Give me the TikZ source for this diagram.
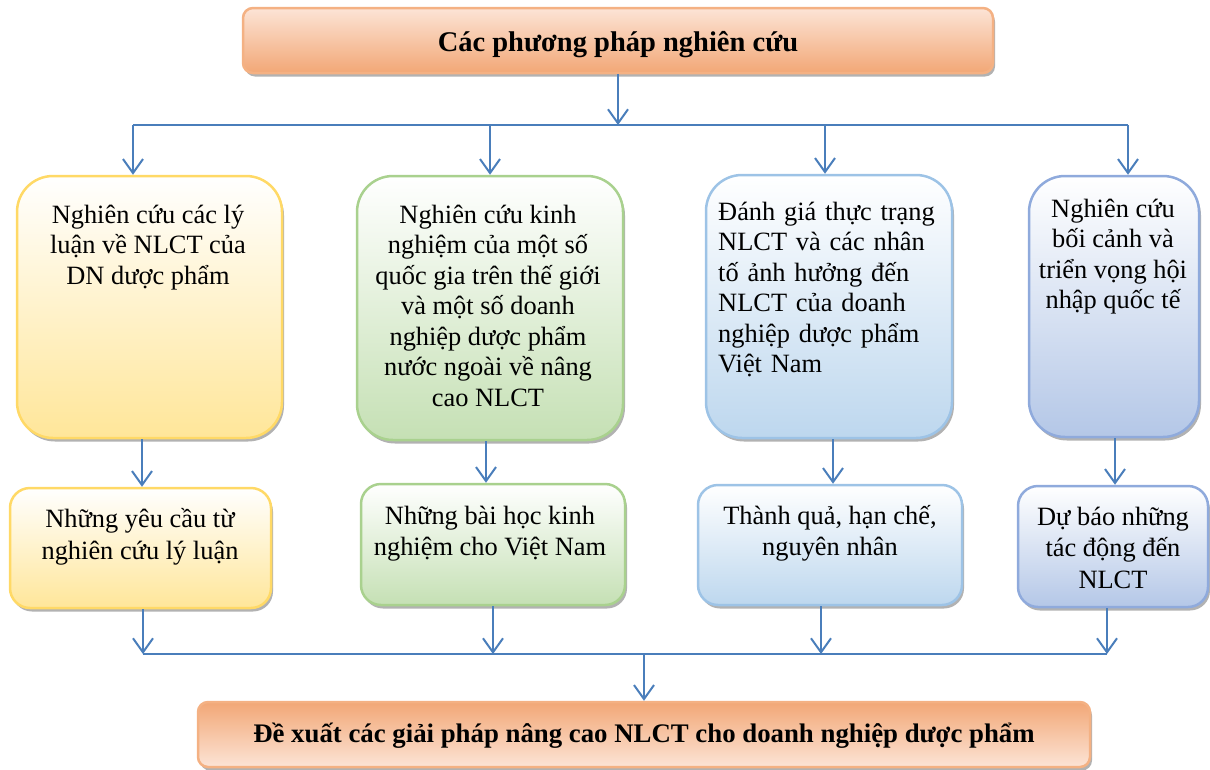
\documentclass[tikz,border=0pt]{standalone}
\usepackage{fontspec}
\setmainfont{Liberation Serif}
\usetikzlibrary{arrows.meta,shadows}
\definecolor{ablue}{HTML}{4A7EBB}
\definecolor{orB}{HTML}{F4B183}
\definecolor{orL}{HTML}{FCE4D6}
\definecolor{orD}{HTML}{F2A776}
\definecolor{yeB}{HTML}{FFD966}
\definecolor{yeF}{HTML}{FFE699}
\definecolor{grB}{HTML}{A9D18E}
\definecolor{grF}{HTML}{C5E0B4}
\definecolor{blB}{HTML}{9DC3E6}
\definecolor{blF}{HTML}{BDD7EE}
\definecolor{peB}{HTML}{8FAADC}
\definecolor{peF}{HTML}{B4C7E7}
\begin{document}
\begin{tikzpicture}[x=1pt,y=-1pt,
  arr/.style={draw=ablue,line width=2pt,-{Straight Barb[length=14pt,width=20pt,line width=2pt]}},
  ln/.style={draw=ablue,line width=2pt},
  card/.style={line width=2.5pt, inner sep=0pt,
    drop shadow={shadow xshift=2pt,shadow yshift=-3.5pt,fill=black,opacity=0.3}},
  bigcard/.style={card, rounded corners=36pt},
  smallcard/.style={card, rounded corners=20pt},
  headcard/.style={card, rounded corners=10pt, draw=orB, top color=orL, bottom color=orD},
  txtU/.style={font=\fontsize{26.4}{30.5}\selectfont, align=center, inner sep=0pt, anchor=north},
  txtL/.style={font=\fontsize{26.4}{31.5}\selectfont, align=center, inner sep=0pt, anchor=north},
]
\useasboundingbox (0,0) rectangle (1210,769);

% head and foot boxes
\node[headcard, minimum width=750pt, minimum height=65pt, font=\fontsize{28.5}{32}\selectfont\bfseries] (top) at (618,40.5) {\raisebox{-4pt}[\height][\depth]{Các phương pháp nghiên cứu}};
\node[headcard, minimum width=892pt, minimum height=65pt, top color=orD, bottom color=orL, font=\fontsize{26.8}{30}\selectfont\bfseries] (bot) at (644,734.5)
  {\raisebox{-1pt}[\height][\depth]{Đề xuất các giải pháp nâng cao NLCT cho doanh nghiệp dược phẩm}};

% upper cards
\node[bigcard, draw=yeB, top color=white, bottom color=yeF, minimum width=265pt, minimum height=262pt] (b1) at (149.5,307) {};
\node[bigcard, draw=grB, top color=white, bottom color=grF, minimum width=266pt, minimum height=264pt] (b2) at (490,308) {};
\node[bigcard, draw=blB, top color=white, bottom color=blF, minimum width=246pt, minimum height=263pt] (b3) at (829,306.5) {};
\node[bigcard, draw=peB, top color=white, bottom color=peF, minimum width=170pt, minimum height=261pt] (b4) at (1114,306.5) {};

% lower cards
\node[smallcard, draw=yeB, top color=white, bottom color=yeF, minimum width=261pt, minimum height=120pt] (b5) at (140.5,548) {};
\node[smallcard, draw=grB, top color=white, bottom color=grF, minimum width=264pt, minimum height=121pt] (b6) at (493,544.5) {};
\node[smallcard, draw=blB, top color=white, bottom color=blF, minimum width=264pt, minimum height=120pt] (b7) at (830,545) {};
\node[smallcard, draw=peB, top color=white, bottom color=peF, minimum width=190pt, minimum height=121pt] (b8) at (1113,546.5) {};

% texts upper (first baseline = y + 30)
\node[txtU] (t1) at (148,193) {\rule{0pt}{30pt}Nghiên cứu các lý\\luận về NLCT của\\DN dược phẩm};
\node[txtU] (t2) at (488,193) {\rule{0pt}{30pt}Nghiên cứu kinh\\nghiệm của một số\\quốc gia trên thế giới\\và một số doanh\\nghiệp dược phẩm\\nước ngoài về nâng\\cao NLCT};
\node[txtU, anchor=north west, align=left, text width=221pt] (t3) at (718,190) {\rule{0pt}{30pt}\makebox[221pt][s]{Đánh giá thực trạng}\\
  \makebox[221pt][s]{NLCT và các nhân}\\
  \makebox[221pt][s]{tố ảnh hưởng đến}\\
  \makebox[221pt][s]{NLCT của doanh}\\
  \makebox[221pt][s]{nghiệp dược phẩm}\\
  Việt Nam};
\node[txtU] (t4) at (1113,187) {\rule{0pt}{30pt}Nghiên cứu\\bối cảnh và\\triển vọng hội\\nhập quốc tế};

% texts lower
\node[txtL] (t5) at (140,497.5) {\rule{0pt}{30pt}Những yêu cầu từ\\nghiên cứu lý luận};
\node[txtL] (t6) at (490,494) {\rule{0pt}{30pt}Những bài học kinh\\nghiệm cho Việt Nam};
\node[txtL] (t7) at (830,494) {\rule{0pt}{30pt}Thành quả, hạn chế,\\nguyên nhân};
\node[txtL] (t8) at (1113,495) {\rule{0pt}{30pt}Dự báo những\\tác động đến\\NLCT};

% junction coordinates
\coordinate (d1) at (133,125);
\coordinate (d2) at (490,125);
\coordinate (d3) at (825,125);
\coordinate (d4) at (1128,125);
\coordinate (m1) at (142,0);
\coordinate (m2) at (486,0);
\coordinate (m3) at (833,0);
\coordinate (m4) at (1115,0);
\coordinate (e1) at (143,654);
\coordinate (e2) at (493,654);
\coordinate (e3) at (821,654);
\coordinate (e4) at (1107,654);
\coordinate (e0) at (644,654);

% top connectors
\draw[arr] (top.south) -- (top.south |- d1);
\draw[ln] (d1) -- (d4);
\draw[arr] (d1) -- (d1 |- b1.north);
\draw[arr] (d2) -- (d2 |- b2.north);
\draw[arr] (d3) -- (d3 |- b3.north);
\draw[arr] (d4) -- (d4 |- b4.north);

% middle connectors
\draw[arr] (b1.south -| m1) -- (b5.north -| m1);
\draw[arr] (b2.south -| m2) -- (b6.north -| m2);
\draw[arr] (b3.south -| m3) -- (b7.north -| m3);
\draw[arr] (b4.south -| m4) -- (b8.north -| m4);

% bottom connectors
\draw[arr] (b5.south -| e1) -- (e1);
\draw[arr] (b6.south -| e2) -- (e2);
\draw[arr] (b7.south -| e3) -- (e3);
\draw[arr] (b8.south -| e4) -- (e4);
\draw[ln] (e1) -- (e4);
\draw[arr] (e0) -- (e0 |- bot.north);
\end{tikzpicture}
\end{document}
